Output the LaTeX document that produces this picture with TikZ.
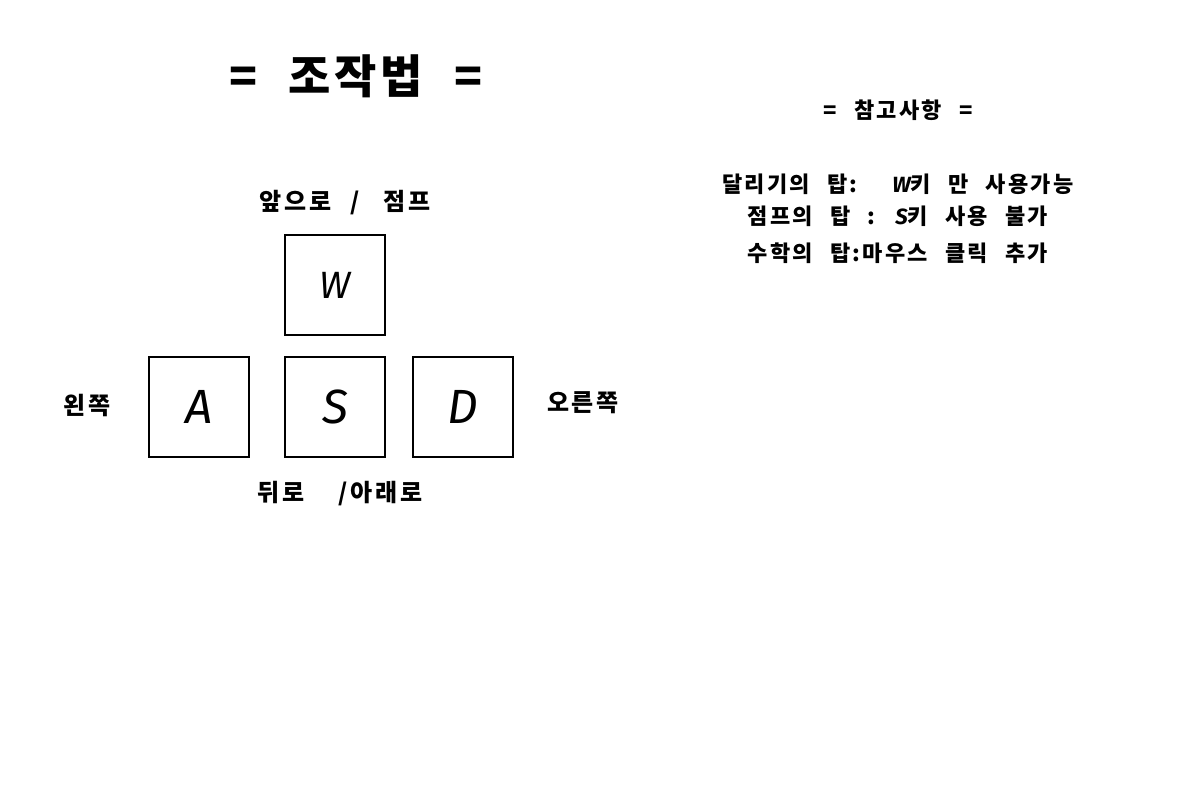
\documentclass[tikz,border=0pt]{standalone}
\usepackage{fontspec}
\setmainfont{Noto Sans CJK KR}
\newfontfamily\hanfont[LetterSpace=12,WordSpace=4]{Noto Sans CJK KR}
\newfontfamily\notefont[LetterSpace=10,WordSpace=2.4]{Noto Sans CJK KR}
\newfontfamily\titlefont[LetterSpace=8,WordSpace=2.2]{Noto Sans CJK KR}
\newfontfamily\keyfont{Fira Sans}
\begin{document}
\begin{tikzpicture}[x=1pt,y=-1pt,
  keybox/.style={draw=black,line width=2.6pt,minimum width=100pt,minimum height=100pt,inner sep=0pt,font=\keyfont\itshape\fontsize{48}{50}\selectfont},
  lbl/.style={font=\hanfont\bfseries\fontsize{24}{26}\selectfont,inner sep=0pt},
  note/.style={font=\notefont\bfseries\fontsize{22}{24}\selectfont,inner sep=0pt}]
\useasboundingbox[fill=white] (0,0) rectangle (1200,800);
\node[font=\titlefont\bfseries\fontsize{46}{50}\selectfont,inner sep=0pt] (title) at (356,76) {= 조작법 =};
\node[note] (refhead) at (898,110) {= 참고사항 =};
\node[note] (tip1) at (898,184) {달리기의 탑:\ \ {\keyfont\itshape W}키 만 사용가능};
\node[note] (tip2) at (898,216) {점프의 탑 : {\keyfont\itshape S}키 사용 불가};
\node[note] (tip3) at (898,253) {수학의 탑:마우스 클릭 추가};
\node[keybox,font=\keyfont\itshape\fontsize{38}{40}\selectfont] (w) at (335,285) {W};
\node[keybox] (a) at (199,407) {A};
\node[keybox] (s) at (335,407) {S};
\node[keybox] (d) at (463,407) {D};
\node[lbl] (fwd) at (345,203) {앞으로\hspace{19pt}/\hspace{23pt}점프};
\node[lbl] (left) at (87,405) {왼쪽};
\node[lbl] (right) at (583,403) {오른쪽};
\node[lbl] (back) at (340,494) {뒤로 /아래로};
\end{tikzpicture}
\end{document}
